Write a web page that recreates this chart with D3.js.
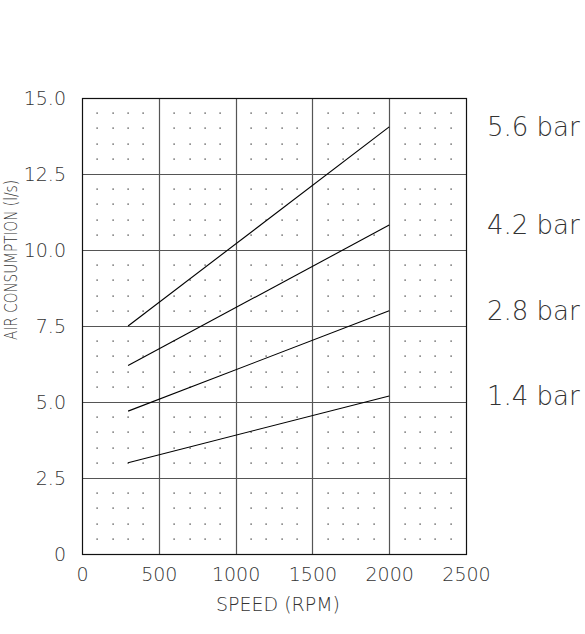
<!DOCTYPE html>
<html>
<head>
<meta charset="utf-8">
<script src="https://cdn.jsdelivr.net/npm/d3@7"></script>
<style>
  html, body { margin: 0; padding: 0; background: #fff; }
  svg { display: block; }
  text { font-family: "DejaVu Sans", sans-serif; font-weight: 200; fill: #333; }
</style>
</head>
<body>
<script>
// ---- data ----
const speeds = [300, 2000];
const seriesLabels = ["5.6 bar", "4.2 bar", "2.8 bar", "1.4 bar"];
const bar56 = [7.5, 14.05];
const bar42 = [6.2, 10.82];
const bar28 = [4.7, 8.0];
const bar14 = [3.0, 5.2];
const xTicks = [0, 500, 1000, 1500, 2000, 2500];
const yTicks = [0, 2.5, 5.0, 7.5, 10.0, 12.5, 15.0];
const yTickLabels = ["0", "2.5", "5.0", "7.5", "10.0", "12.5", "15.0"];
const xTitle = "SPEED (RPM)";
const yTitle = "AIR CONSUMPTION (l/s)";

const series = [bar56, bar42, bar28, bar14];

// ---- layout ----
const W = 585, H = 634;
const svg = d3.select("body").append("svg").attr("width", W).attr("height", H);

const x = d3.scaleLinear().domain([0, 2500]).range([82, 466]);
const y = d3.scaleLinear().domain([0, 15]).range([554, 98]);

// dotted minor grid
const dotsX = d3.range(100, 2500, 100).filter(v => v % 500 !== 0);
const dotsY = d3.range(0.5, 15, 0.5).filter(v => Math.abs(v / 2.5 - Math.round(v / 2.5)) > 1e-6);
const dots = [];
dotsX.forEach(dx => dotsY.forEach(dy => dots.push([dx, dy])));
svg.append("g").selectAll("rect").data(dots).join("rect")
  .attr("x", d => Math.round(x(d[0])) - 0.5)
  .attr("y", d => Math.round(y(d[1])) - 0.5)
  .attr("width", 1.2).attr("height", 1.2)
  .attr("fill", "#222");

// major grid
svg.append("g").selectAll("line").data(xTicks.slice(1, -1)).join("line")
  .attr("x1", d => Math.round(x(d)) + 0.5).attr("x2", d => Math.round(x(d)) + 0.5)
  .attr("y1", y(0)).attr("y2", y(15))
  .attr("stroke", "#555").attr("stroke-width", 1.2);
svg.append("g").selectAll("line").data(yTicks.slice(1, -1)).join("line")
  .attr("y1", d => Math.round(y(d)) + 0.5).attr("y2", d => Math.round(y(d)) + 0.5)
  .attr("x1", x(0)).attr("x2", x(2500))
  .attr("stroke", "#555").attr("stroke-width", 1.2);

// frame
svg.append("rect")
  .attr("x", x(0) + 0.5).attr("y", y(15) + 0.5)
  .attr("width", x(2500) - x(0)).attr("height", y(0) - y(15))
  .attr("fill", "none").attr("stroke", "#111").attr("stroke-width", 1.2);

// axes tick labels
const xAxis = d3.axisBottom(x).tickValues(xTicks).tickSize(0).tickPadding(14)
  .tickFormat(d => String(d));
const gx = svg.append("g").attr("transform", `translate(0,${y(0)})`).call(xAxis);
gx.select(".domain").remove();
gx.selectAll("text").attr("font-size", 19).attr("fill", "#333")
  .style("font-family", '"DejaVu Sans", sans-serif');

const yAxis = d3.axisLeft(y).tickValues(yTicks).tickSize(0).tickPadding(16)
  .tickFormat((d, i) => yTickLabels[i]);
const gy = svg.append("g").attr("transform", `translate(${x(0)},0)`).call(yAxis);
gy.select(".domain").remove();
gy.selectAll("text").attr("font-size", 19).attr("fill", "#333")
  .style("font-family", '"DejaVu Sans", sans-serif');

// series lines
const line = d3.line().x((d, i) => x(speeds[i])).y(d => y(d));
svg.append("g").selectAll("path").data(series).join("path")
  .attr("d", d => line(d))
  .attr("fill", "none").attr("stroke", "#000").attr("stroke-width", 1.1);

// right labels
svg.append("g").selectAll("text").data(series).join("text")
  .attr("x", 487)
  .attr("y", d => y(d[d.length - 1]))
  .attr("dy", "0.36em")
  .attr("font-size", 26)
  .text((d, i) => seriesLabels[i]);

// titles
svg.append("text")
  .attr("x", (x(0) + x(2500)) / 2 + 4).attr("y", 611)
  .attr("text-anchor", "middle").attr("font-size", 19)
  .text(xTitle);

svg.append("text")
  .attr("transform", `translate(17,${260}) rotate(-90)`)
  .attr("text-anchor", "middle").attr("font-size", 17)
  .attr("textLength", 160).attr("lengthAdjust", "spacingAndGlyphs")
  .text(yTitle);
</script>
</body>
</html>
